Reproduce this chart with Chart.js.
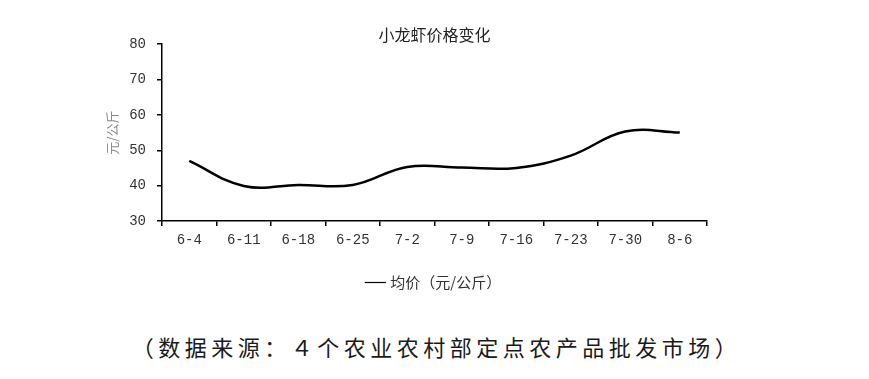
<!DOCTYPE html>
<html>
<head>
<meta charset="utf-8">
<script src="https://cdn.jsdelivr.net/npm/chart.js@4"></script>
<style>
  html, body { margin: 0; padding: 0; background: #fff; }
  #wrap { position: relative; width: 869px; height: 379px; overflow: hidden; }
  #box { position: absolute; left: 0; top: 0; width: 869px; height: 300px; }
  #source {
    position: absolute; left: 0; width: 869px; top: 332px;
    text-align: center; font-family: "Noto Sans CJK SC", sans-serif;
    font-size: 22px; letter-spacing: 4.5px; color: #1a1a1a; line-height: 28px;
    text-indent: 4px;
  }
</style>
</head>
<body>
<div id="wrap">
  <div id="box"><canvas id="chart"></canvas></div>
  <div id="source">（数据来源：４个农业农村部定点农产品批发市场）</div>
</div>
<script>
const weeks = ["6-4", "6-11", "6-18", "6-25", "7-2", "7-9", "7-16", "7-23", "7-30", "8-6"];
const avgPrice = [47, 39.9, 40.2, 40.2, 45.3, 45.1, 45, 48.5, 55.3, 55];
const yTicks = [30, 40, 50, 60, 70, 80];

const tickFont = { family: "'Liberation Mono', 'DejaVu Sans Mono', monospace", size: 14 };
const cjkFont = "'Noto Sans CJK SC', sans-serif";

// centre title and legend on the plot area instead of the whole box
const centerOnArea = {
  id: "centerOnArea",
  afterLayout(chart) {
    const mid = (chart.chartArea.left + chart.chartArea.right) / 2;
    [chart.titleBlock, chart.legend].forEach(b => {
      if (!b) return;
      const d = mid - (b.left + b.right) / 2;
      b.left += d;
      b.right += d;
    });
  }
};

document.addEventListener("DOMContentLoaded", () => {
  const ctx = document.getElementById("chart").getContext("2d");
  new Chart(ctx, {
    type: "line",
    data: {
      labels: weeks,
      datasets: [{
        label: "均价（元/公斤）",
        data: avgPrice,
        borderColor: "#000",
        backgroundColor: "#000",
        borderWidth: 2.5,
        pointRadius: 0,
        tension: 0.4,
        fill: false
      }]
    },
    plugins: [centerOnArea],
    options: {
      responsive: true,
      maintainAspectRatio: false,
      animation: false,
      layout: { padding: { left: 100, right: 162, top: 0, bottom: 0 } },
      plugins: {
        title: {
          display: true,
          text: "小龙虾价格变化",
          color: "#222",
          font: { family: cjkFont, size: 16, weight: "normal" },
          padding: { top: 25, bottom: 0 }
        },
        legend: {
          position: "bottom",
          labels: {
            usePointStyle: true,
            pointStyle: "line",
            boxWidth: 30,
            color: "#333",
            font: { family: cjkFont, size: 15 },
            generateLabels: chart => {
              const items = Chart.defaults.plugins.legend.labels.generateLabels(chart);
              items.forEach(it => { it.lineWidth = 1.2; });
              return items;
            }
          }
        },
        tooltip: { enabled: false }
      },
      scales: {
        x: {
          offset: true,
          afterFit: s => { s.height = 44; },
          border: { color: "#000", width: 1.5 },
          grid: { offset: true, drawOnChartArea: false, drawTicks: true, tickLength: 5, color: "#000", lineWidth: 1.5 },
          ticks: { color: "#333", font: tickFont, padding: 6, maxRotation: 0 }
        },
        y: {
          min: 30,
          max: 80,
          afterFit: s => { s.width = 62; },
          afterBuildTicks: s => { s.ticks = yTicks.map(v => ({ value: v })); },
          border: { color: "#000", width: 1.5 },
          grid: { drawOnChartArea: false, drawTicks: true, tickLength: 5, color: "#000", lineWidth: 1.5 },
          ticks: { color: "#333", font: tickFont, padding: 11 },
          title: {
            display: true,
            text: "元/公斤",
            color: "#888",
            font: { family: cjkFont, size: 13 },
            padding: { top: 4, bottom: 0 }
          }
        }
      }
    }
  });
});
</script>
</body>
</html>
